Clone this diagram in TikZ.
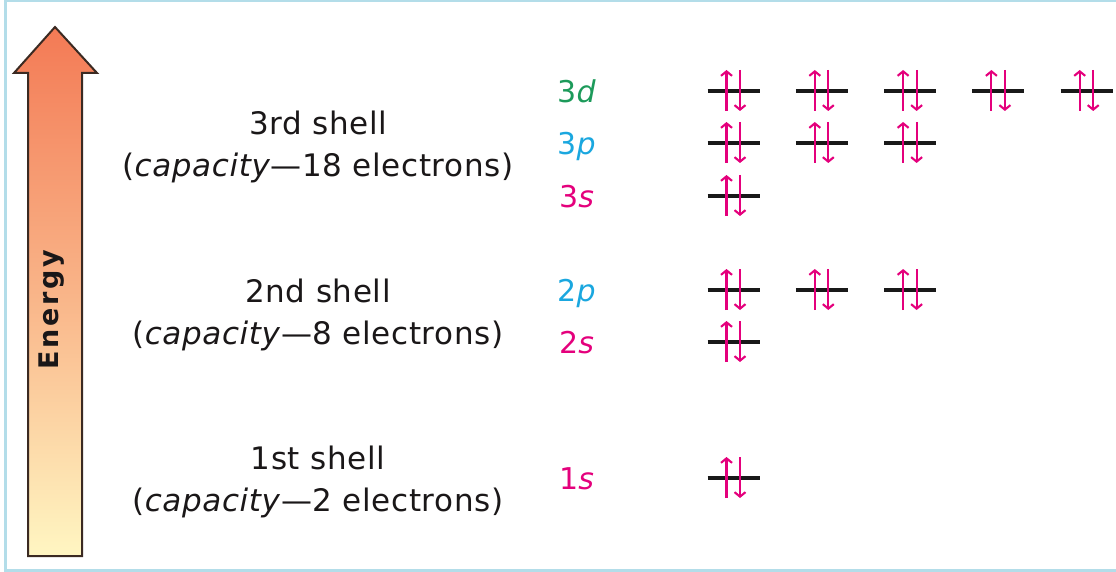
\documentclass[tikz,border=0pt]{standalone}
\usepackage{fontspec}
\setmainfont{DejaVu Sans}[LetterSpace=2.0]
\newfontfamily\energyfont{DejaVu Sans}[LetterSpace=10.0]
\usetikzlibrary{arrows.meta}
\definecolor{enframe}{HTML}{B3DDE9}
\definecolor{enmagenta}{HTML}{E4007C}
\definecolor{encyan}{HTML}{1AA7DF}
\definecolor{engreen}{HTML}{1C9A5A}
\definecolor{entop}{HTML}{F37A55}
\definecolor{enmid}{HTML}{F9B488}
\definecolor{enbot}{HTML}{FFF6C2}
\definecolor{enedge}{HTML}{3B2A22}
\definecolor{entext}{HTML}{1A1718}

\begin{document}
\begin{tikzpicture}[
      x=1pt, y=-1pt,
      shell/.style={align=center, text=entext, font=\fontsize{31}{42}\selectfont},
      orblabel/.style={anchor=base, font=\fontsize{30}{36}\selectfont},
      spin/.style={enmagenta, line width=2.1pt, -{Straight Barb[length=4.5pt,width=11pt]}},
      orb/.pic={
        \draw[black!90, line width=3.5pt] (-26,0) -- (26,0);
        \draw[spin] (-7,20) -- (-7,-21);
        \draw[spin] (6.5,-21) -- (6.5,20);
      },
    ]
    \useasboundingbox (0,0) rectangle (1116,572);

    % ---------------- frame
    \draw[enframe, line width=2.5pt] (1130,1.25) -- (5.5,1.25) -- (5.5,570.5) -- (1130,570.5);

    % ---------------- energy arrow
    \shade[top color=entop, bottom color=enbot, middle color=enmid]
      (55,27) -- (97,73) -- (82,73) -- (82,556) -- (28,556) -- (28,73) -- (14,73) -- cycle;
    \draw[enedge, line width=2pt, line join=miter]
      (55,27) -- (97,73) -- (82,73) -- (82,556) -- (28,556) -- (28,73) -- (14,73) -- cycle;
    \node[rotate=90, text=entext, font=\energyfont\bfseries\fontsize{27}{27}\selectfont]
      (energy) at (52,310) {Energy};

    % ---------------- shells
    \node[shell] (shell3) at (318,147) {3rd shell\\(\textit{capacity}---18 electrons)};
    \node[shell] (shell2) at (318,315) {2nd shell\\(\textit{capacity}---8 electrons)};
    \node[shell] (shell1) at (318,482) {1st shell\\(\textit{capacity}---2 electrons)};

    % ---------------- subshell labels
    \node[orblabel, text=engreen]   (l3d) at (577,102.5) {3\textit{d}};
    \node[orblabel, text=encyan]    (l3p) at (577,154.5) {3\textit{p}};
    \node[orblabel, text=enmagenta] (l3s) at (577,207.5) {3\textit{s}};
    \node[orblabel, text=encyan]    (l2p) at (577,301.5) {2\textit{p}};
    \node[orblabel, text=enmagenta] (l2s) at (577,353.5) {2\textit{s}};
    \node[orblabel, text=enmagenta] (l1s) at (577,489.5) {1\textit{s}};

    % ---------------- orbitals
    \pic at (733.5,91) {orb};
    \pic at (821.8,91) {orb};
    \pic at (910.1,91) {orb};
    \pic at (998.4,91) {orb};
    \pic at (1086.7,91) {orb};
    \pic at (733.5,143) {orb};
    \pic at (821.8,143) {orb};
    \pic at (910.1,143) {orb};
    \pic at (733.5,196) {orb};
    \pic at (733.5,290) {orb};
    \pic at (821.8,290) {orb};
    \pic at (910.1,290) {orb};
    \pic at (733.5,342) {orb};
    \pic at (733.5,478) {orb};
  \end{tikzpicture}
\end{document}
